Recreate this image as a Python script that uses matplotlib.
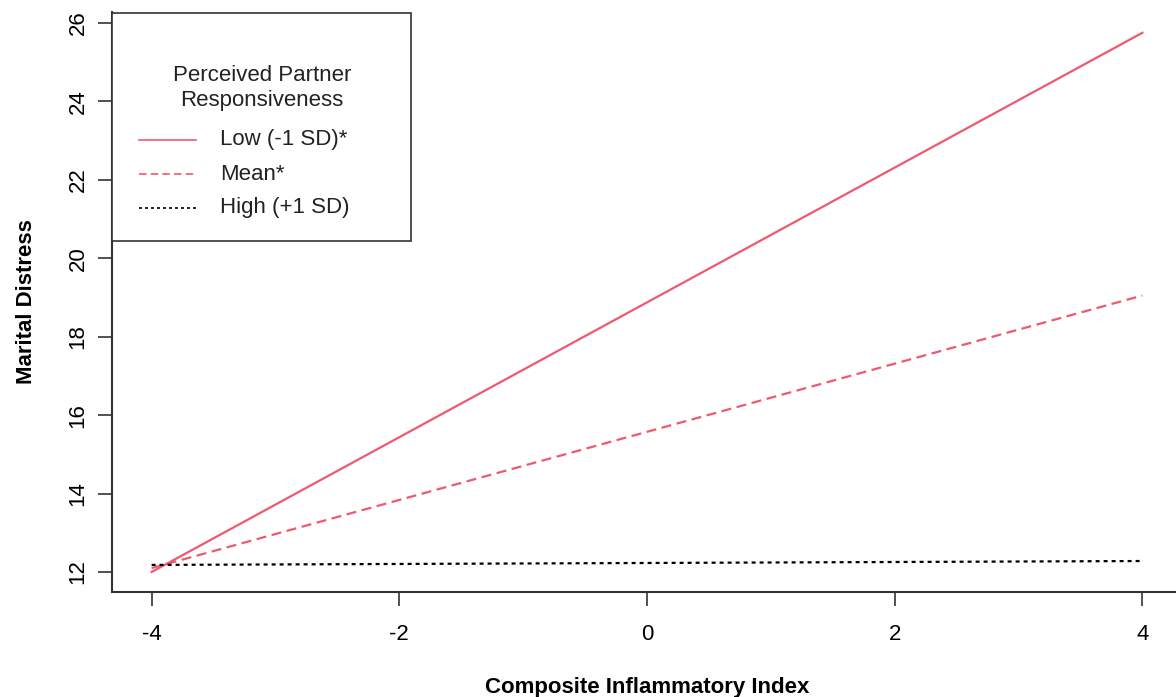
import matplotlib
matplotlib.use("Agg")
import matplotlib.pyplot as plt
from matplotlib.patches import Rectangle
from matplotlib.lines import Line2D

# Simple slopes: marital distress by inflammation at three levels of responsiveness
inflammation = [-4, 4]
low_resp = [12.0, 25.75]
mean_resp = [12.1, 19.05]
high_resp = [12.18, 12.28]

series_labels = ["Low (-1 SD)*", "Mean*", "High (+1 SD)"]
legend_title = "Perceived Partner\nResponsiveness"
x_ticks = [-4, -2, 0, 2, 4]
y_ticks = [12, 14, 16, 18, 20, 22, 24, 26]

plt.rcParams["font.family"] = ["Liberation Sans", "DejaVu Sans"]

W, H = 1176, 697
fig = plt.figure(figsize=(W / 100, H / 100), dpi=100)
# axes box in pixels: left 112, bottom 592, width 1070, height 580
ax = fig.add_axes([112 / W, (H - 592) / H, 1070 / W, 580 / H])

red = "#EC5A70"
styles = [
    dict(color=red, linestyle="-"),
    dict(color=red, linestyle=(0, (4.5, 2.5))),
    dict(color="black", linestyle=(0, (1.8, 1.8))),
]
for yvals, st in zip([low_resp, mean_resp, high_resp], styles):
    ax.plot(inflammation, yvals, lw=1.6, **st)

ax.set_xlim(-4.32, 4.32)
ax.set_ylim(11.49, 26.28)
ax.set_xticks(x_ticks)
ax.set_yticks(y_ticks)
ax.set_xticklabels([str(v) for v in x_ticks], fontsize=16)
ax.set_yticklabels([str(v) for v in y_ticks], fontsize=16, rotation=90, va="center")
ax.tick_params(axis="both", length=10, width=1.2, color="#333333")
ax.tick_params(axis="x", pad=13)
ax.tick_params(axis="y", pad=7)

for side in ["top", "right"]:
    ax.spines[side].set_visible(False)
for side in ["left", "bottom"]:
    ax.spines[side].set_linewidth(1.5)
    ax.spines[side].set_color("#333333")

ax.set_xlabel("Composite Inflammatory Index", fontsize=16, fontweight="bold", labelpad=23)
ax.set_ylabel("Marital Distress", fontsize=16, fontweight="bold", labelpad=22)


# legend drawn by hand, R style: positions given in pixels of the axes box
def px(x, y):
    return (x - 112) / 1070, (592 - y) / 580


x0, y0 = px(112, 241)
x1, y1 = px(411, 13)
ax.add_patch(Rectangle((x0, y0), x1 - x0, y1 - y0, transform=ax.transAxes,
                       facecolor="white", edgecolor="#333333", lw=1.2, zorder=5,
                       clip_on=False))
tx, ty = px(262, 88)
ax.text(tx, ty, legend_title, transform=ax.transAxes, ha="center", va="center",
        fontsize=16, linespacing=1.3, zorder=6, color="#222222")
for i, (lab, st) in enumerate(zip(series_labels, styles)):
    yy = 140 + 34 * i
    hx0, hy = px(139, yy)
    hx1, _ = px(196, yy)
    ax.add_line(Line2D([hx0, hx1], [hy, hy], transform=ax.transAxes, lw=1.2,
                       zorder=6, **st))
    lx, _ = px(220, yy)
    ax.text(lx, hy, lab, transform=ax.transAxes, ha="left", va="center",
            fontsize=16, zorder=6, color="#222222")

fig.savefig("out.png", dpi=100)
